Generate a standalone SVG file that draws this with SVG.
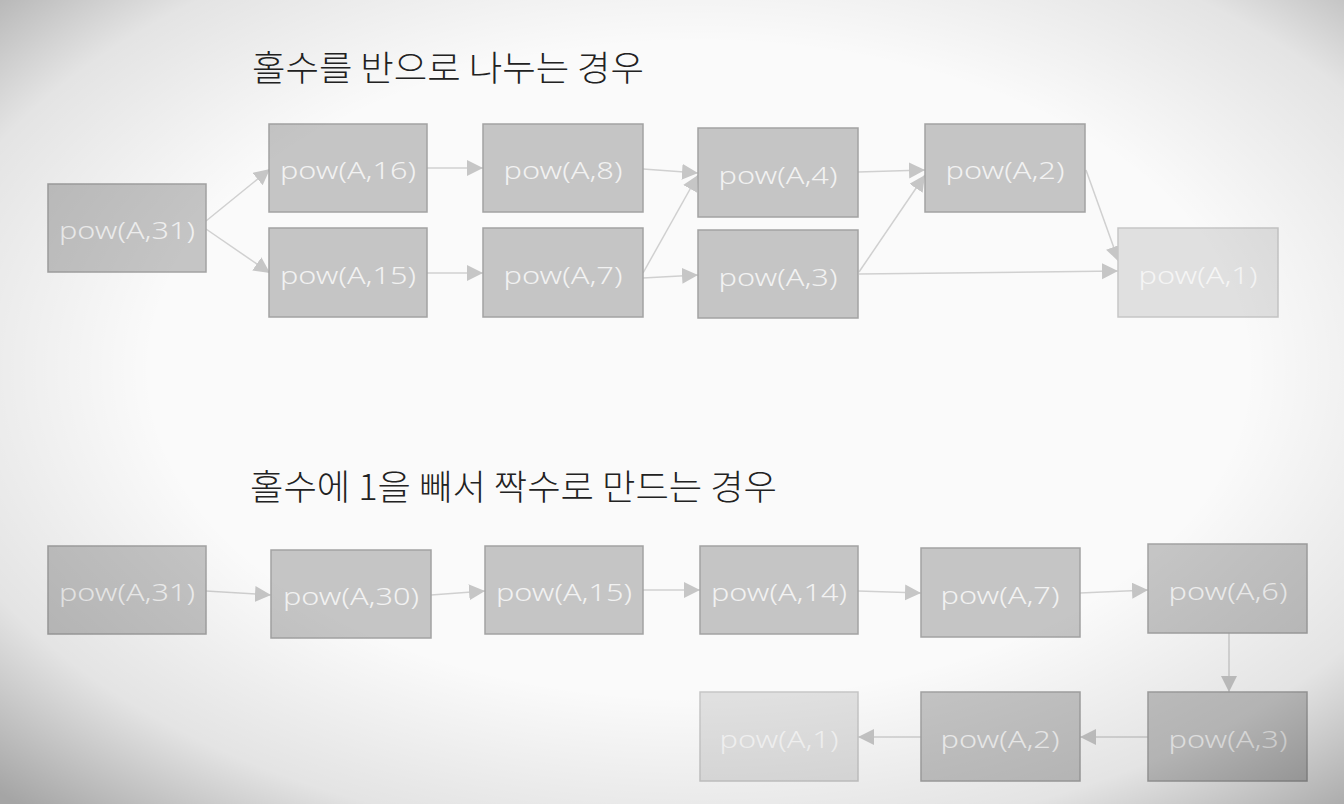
<svg xmlns="http://www.w3.org/2000/svg" width="1344" height="804" viewBox="0 0 1344 804">
<defs>
<style>
.box rect{fill:#c5c5c5;stroke:#a2a2a2;stroke-width:1.5}
.box.light rect{fill:#e0e0e0;stroke:#c6c6c6}
.box text{font-family:"Noto Sans","Open Sans",sans-serif;font-size:24px;font-weight:300;fill:#f2f2f2;text-anchor:middle}
.box.light text{fill:#f5f5f5}
.title{font-family:"Noto Sans CJK KR","Noto Sans",sans-serif;font-size:35px;font-weight:300;fill:#222222}
#connectors line{stroke:#d0d0d0;stroke-width:1.5;marker-end:url(#arr)}
</style>
<marker id="arr" markerUnits="userSpaceOnUse" markerWidth="18" markerHeight="18" refX="16" refY="8" orient="auto">
<path d="M0,0 L16,8 L0,16 z" fill="#c6c6c6"/>
</marker>
<radialGradient id="vig" cx="0.52" cy="0.46" r="0.74">
<stop offset="0" stop-color="#000" stop-opacity="0"/>
<stop offset="0.55" stop-color="#000" stop-opacity="0"/>
<stop offset="0.8" stop-color="#000" stop-opacity="0.09"/>
<stop offset="1" stop-color="#000" stop-opacity="0.34"/>
</radialGradient>
</defs>
<rect x="0" y="0" width="1344" height="804" fill="#fafafa"/>

<text class="title" x="252" y="81" textLength="392" lengthAdjust="spacingAndGlyphs">홀수를 반으로 나누는 경우</text>
<text class="title" x="250" y="500" textLength="527" lengthAdjust="spacingAndGlyphs">홀수에 1을 빼서 짝수로 만드는 경우</text>

<g id="connectors">
<line x1="206" y1="221" x2="270" y2="169"/>
<line x1="206" y1="229" x2="270" y2="273"/>
<line x1="427" y1="168" x2="483" y2="168"/>
<line x1="427" y1="273" x2="483" y2="273"/>
<line x1="643" y1="169" x2="698" y2="173"/>
<line x1="643" y1="273" x2="698" y2="175"/>
<line x1="643" y1="278" x2="698" y2="275"/>
<line x1="858" y1="172" x2="925" y2="170"/>
<line x1="859" y1="272" x2="925" y2="175"/>
<line x1="859" y1="274" x2="1118" y2="271"/>
<line x1="1086" y1="170" x2="1119" y2="262"/>

<line x1="206" y1="591" x2="271" y2="595"/>
<line x1="431" y1="595" x2="485" y2="591"/>
<line x1="643" y1="590" x2="700" y2="590"/>
<line x1="858" y1="591" x2="921" y2="593"/>
<line x1="1080" y1="593" x2="1148" y2="590"/>
<line x1="1229" y1="633" x2="1229" y2="692"/>
<line x1="1148" y1="737" x2="1080" y2="737"/>
<line x1="921" y1="737" x2="858" y2="737"/>
</g>

<g id="t31" class="box"><rect x="48" y="184" width="158" height="88"/><text x="127" y="239" textLength="136" lengthAdjust="spacingAndGlyphs">pow(A,31)</text></g>
<g id="t16" class="box"><rect x="269" y="124" width="158" height="88"/><text x="348" y="179" textLength="136" lengthAdjust="spacingAndGlyphs">pow(A,16)</text></g>
<g id="t15" class="box"><rect x="269" y="228" width="158" height="89"/><text x="348" y="284" textLength="136" lengthAdjust="spacingAndGlyphs">pow(A,15)</text></g>
<g id="t8" class="box"><rect x="483" y="124" width="160" height="88"/><text x="563" y="179" textLength="119" lengthAdjust="spacingAndGlyphs">pow(A,8)</text></g>
<g id="t7" class="box"><rect x="483" y="228" width="160" height="89"/><text x="563" y="284" textLength="119" lengthAdjust="spacingAndGlyphs">pow(A,7)</text></g>
<g id="t4" class="box"><rect x="698" y="128" width="160" height="89"/><text x="778" y="184" textLength="119" lengthAdjust="spacingAndGlyphs">pow(A,4)</text></g>
<g id="t3" class="box"><rect x="698" y="230" width="160" height="88"/><text x="778" y="286" textLength="119" lengthAdjust="spacingAndGlyphs">pow(A,3)</text></g>
<g id="t2" class="box"><rect x="925" y="124" width="160" height="88"/><text x="1005" y="179" textLength="119" lengthAdjust="spacingAndGlyphs">pow(A,2)</text></g>
<g id="t1" class="box light"><rect x="1118" y="228" width="160" height="89"/><text x="1198" y="284" textLength="119" lengthAdjust="spacingAndGlyphs">pow(A,1)</text></g>

<g id="b31" class="box"><rect x="48" y="546" width="158" height="88"/><text x="127" y="601" textLength="136" lengthAdjust="spacingAndGlyphs">pow(A,31)</text></g>
<g id="b30" class="box"><rect x="271" y="550" width="160" height="88"/><text x="351" y="605" textLength="136" lengthAdjust="spacingAndGlyphs">pow(A,30)</text></g>
<g id="b15" class="box"><rect x="485" y="546" width="158" height="88"/><text x="564" y="601" textLength="136" lengthAdjust="spacingAndGlyphs">pow(A,15)</text></g>
<g id="b14" class="box"><rect x="700" y="546" width="158" height="88"/><text x="779" y="601" textLength="136" lengthAdjust="spacingAndGlyphs">pow(A,14)</text></g>
<g id="b7" class="box"><rect x="921" y="548" width="159" height="89"/><text x="1000" y="604" textLength="119" lengthAdjust="spacingAndGlyphs">pow(A,7)</text></g>
<g id="b6" class="box"><rect x="1148" y="544" width="159" height="89"/><text x="1228" y="600" textLength="119" lengthAdjust="spacingAndGlyphs">pow(A,6)</text></g>
<g id="b3" class="box"><rect x="1148" y="692" width="159" height="89"/><text x="1228" y="748" textLength="119" lengthAdjust="spacingAndGlyphs">pow(A,3)</text></g>
<g id="b2" class="box"><rect x="921" y="692" width="159" height="89"/><text x="1000" y="748" textLength="119" lengthAdjust="spacingAndGlyphs">pow(A,2)</text></g>
<g id="b1" class="box light"><rect x="700" y="692" width="158" height="89"/><text x="779" y="748" textLength="119" lengthAdjust="spacingAndGlyphs">pow(A,1)</text></g>

<rect x="0" y="0" width="1344" height="804" fill="url(#vig)"/>
</svg>
